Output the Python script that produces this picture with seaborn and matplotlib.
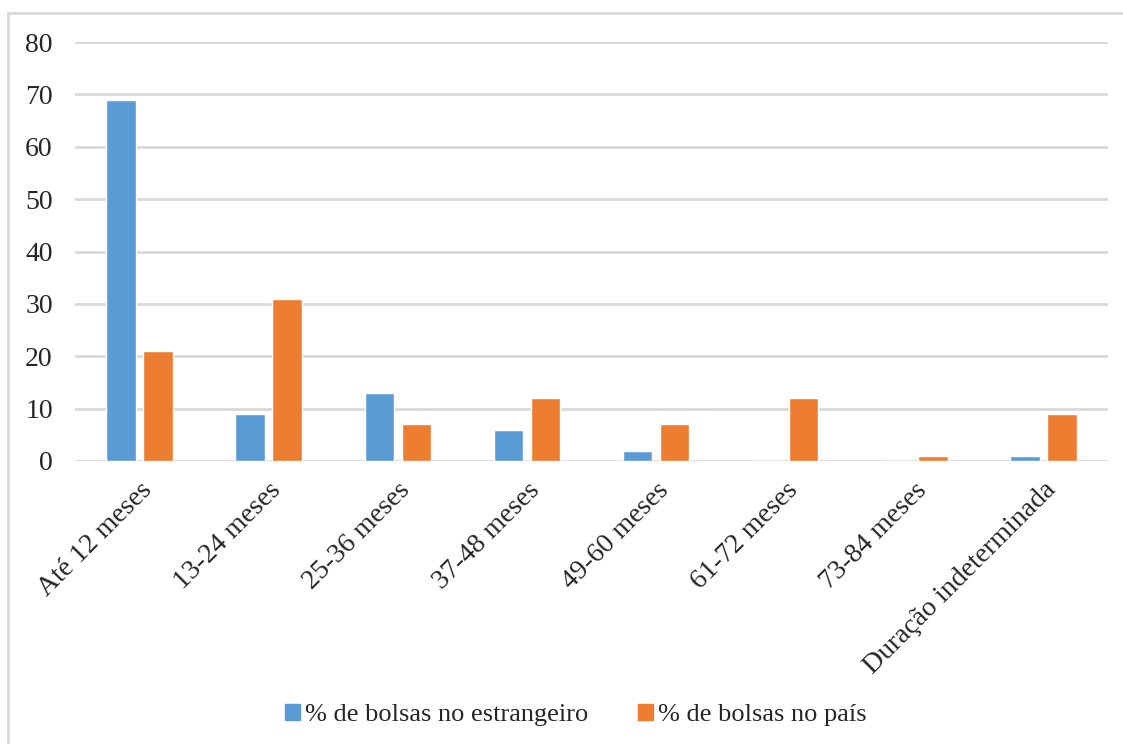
import matplotlib
matplotlib.use('Agg')
import matplotlib.pyplot as plt
from matplotlib.lines import Line2D
import pandas as pd
import seaborn as sns

categories = ['Até 12 meses', '13-24 meses', '25-36 meses', '37-48 meses',
              '49-60 meses', '61-72 meses', '73-84 meses', 'Duração indeterminada']
estrangeiro = [69, 9, 13, 6, 2, 0, 0, 1]
pais = [21, 31, 7, 12, 7, 12, 1, 9]
series = ['% de bolsas no estrangeiro', '% de bolsas no país']
colors = ['#5B9BD5', '#ED7D31']

df = pd.DataFrame({
    'cat': categories * 2,
    'val': estrangeiro + pais,
    'serie': [series[0]] * len(categories) + [series[1]] * len(categories),
})

sns.set_style('white')
plt.rcParams['font.family'] = ['Liberation Serif', 'DejaVu Serif']

fig = plt.figure(figsize=(11.23, 7.44), dpi=100)
ax = fig.add_axes([0.0668, 0.3804, 0.9198, 0.5631])

sns.barplot(data=df, x='cat', y='val', hue='serie', order=categories,
            hue_order=series, palette=colors, width=0.573, gap=0.2,
            saturation=1, ax=ax, legend=False)

ax.set_ylim(0, 80)
ax.set_yticks(range(0, 81, 10))
ax.set_xlim(-0.5, len(categories) - 0.5)
ax.yaxis.grid(True, color='#d9d9d9', linewidth=2)
ax.set_axisbelow(True)
for s in ax.spines.values():
    s.set_visible(False)
ax.set_xlabel('')
ax.set_ylabel('')
ax.tick_params(axis='both', length=0, labelsize=20)
ax.tick_params(axis='y', pad=16)
ax.tick_params(axis='x', pad=12)
plt.setp(ax.get_xticklabels(), rotation=45, ha='right', rotation_mode='anchor')

# outer border (top and left visible like the original export)
fig.add_artist(Line2D([8 / 1123, 1.0], [1 - 13 / 744, 1 - 13 / 744],
                      transform=fig.transFigure, color='#d9d9d9', linewidth=2))
fig.add_artist(Line2D([8 / 1123, 8 / 1123], [0, 1 - 13 / 744],
                      transform=fig.transFigure, color='#d9d9d9', linewidth=2))

handles = [plt.Rectangle((0, 0), 1, 1, color=c) for c in colors]
fig.legend(handles, series, loc='center', bbox_to_anchor=(0.513, 0.039), ncol=2,
           frameon=False, fontsize=19, handlelength=0.55, handleheight=0.55,
           handletextpad=0.2, columnspacing=1.9)

fig.savefig('out.png', dpi=100)
